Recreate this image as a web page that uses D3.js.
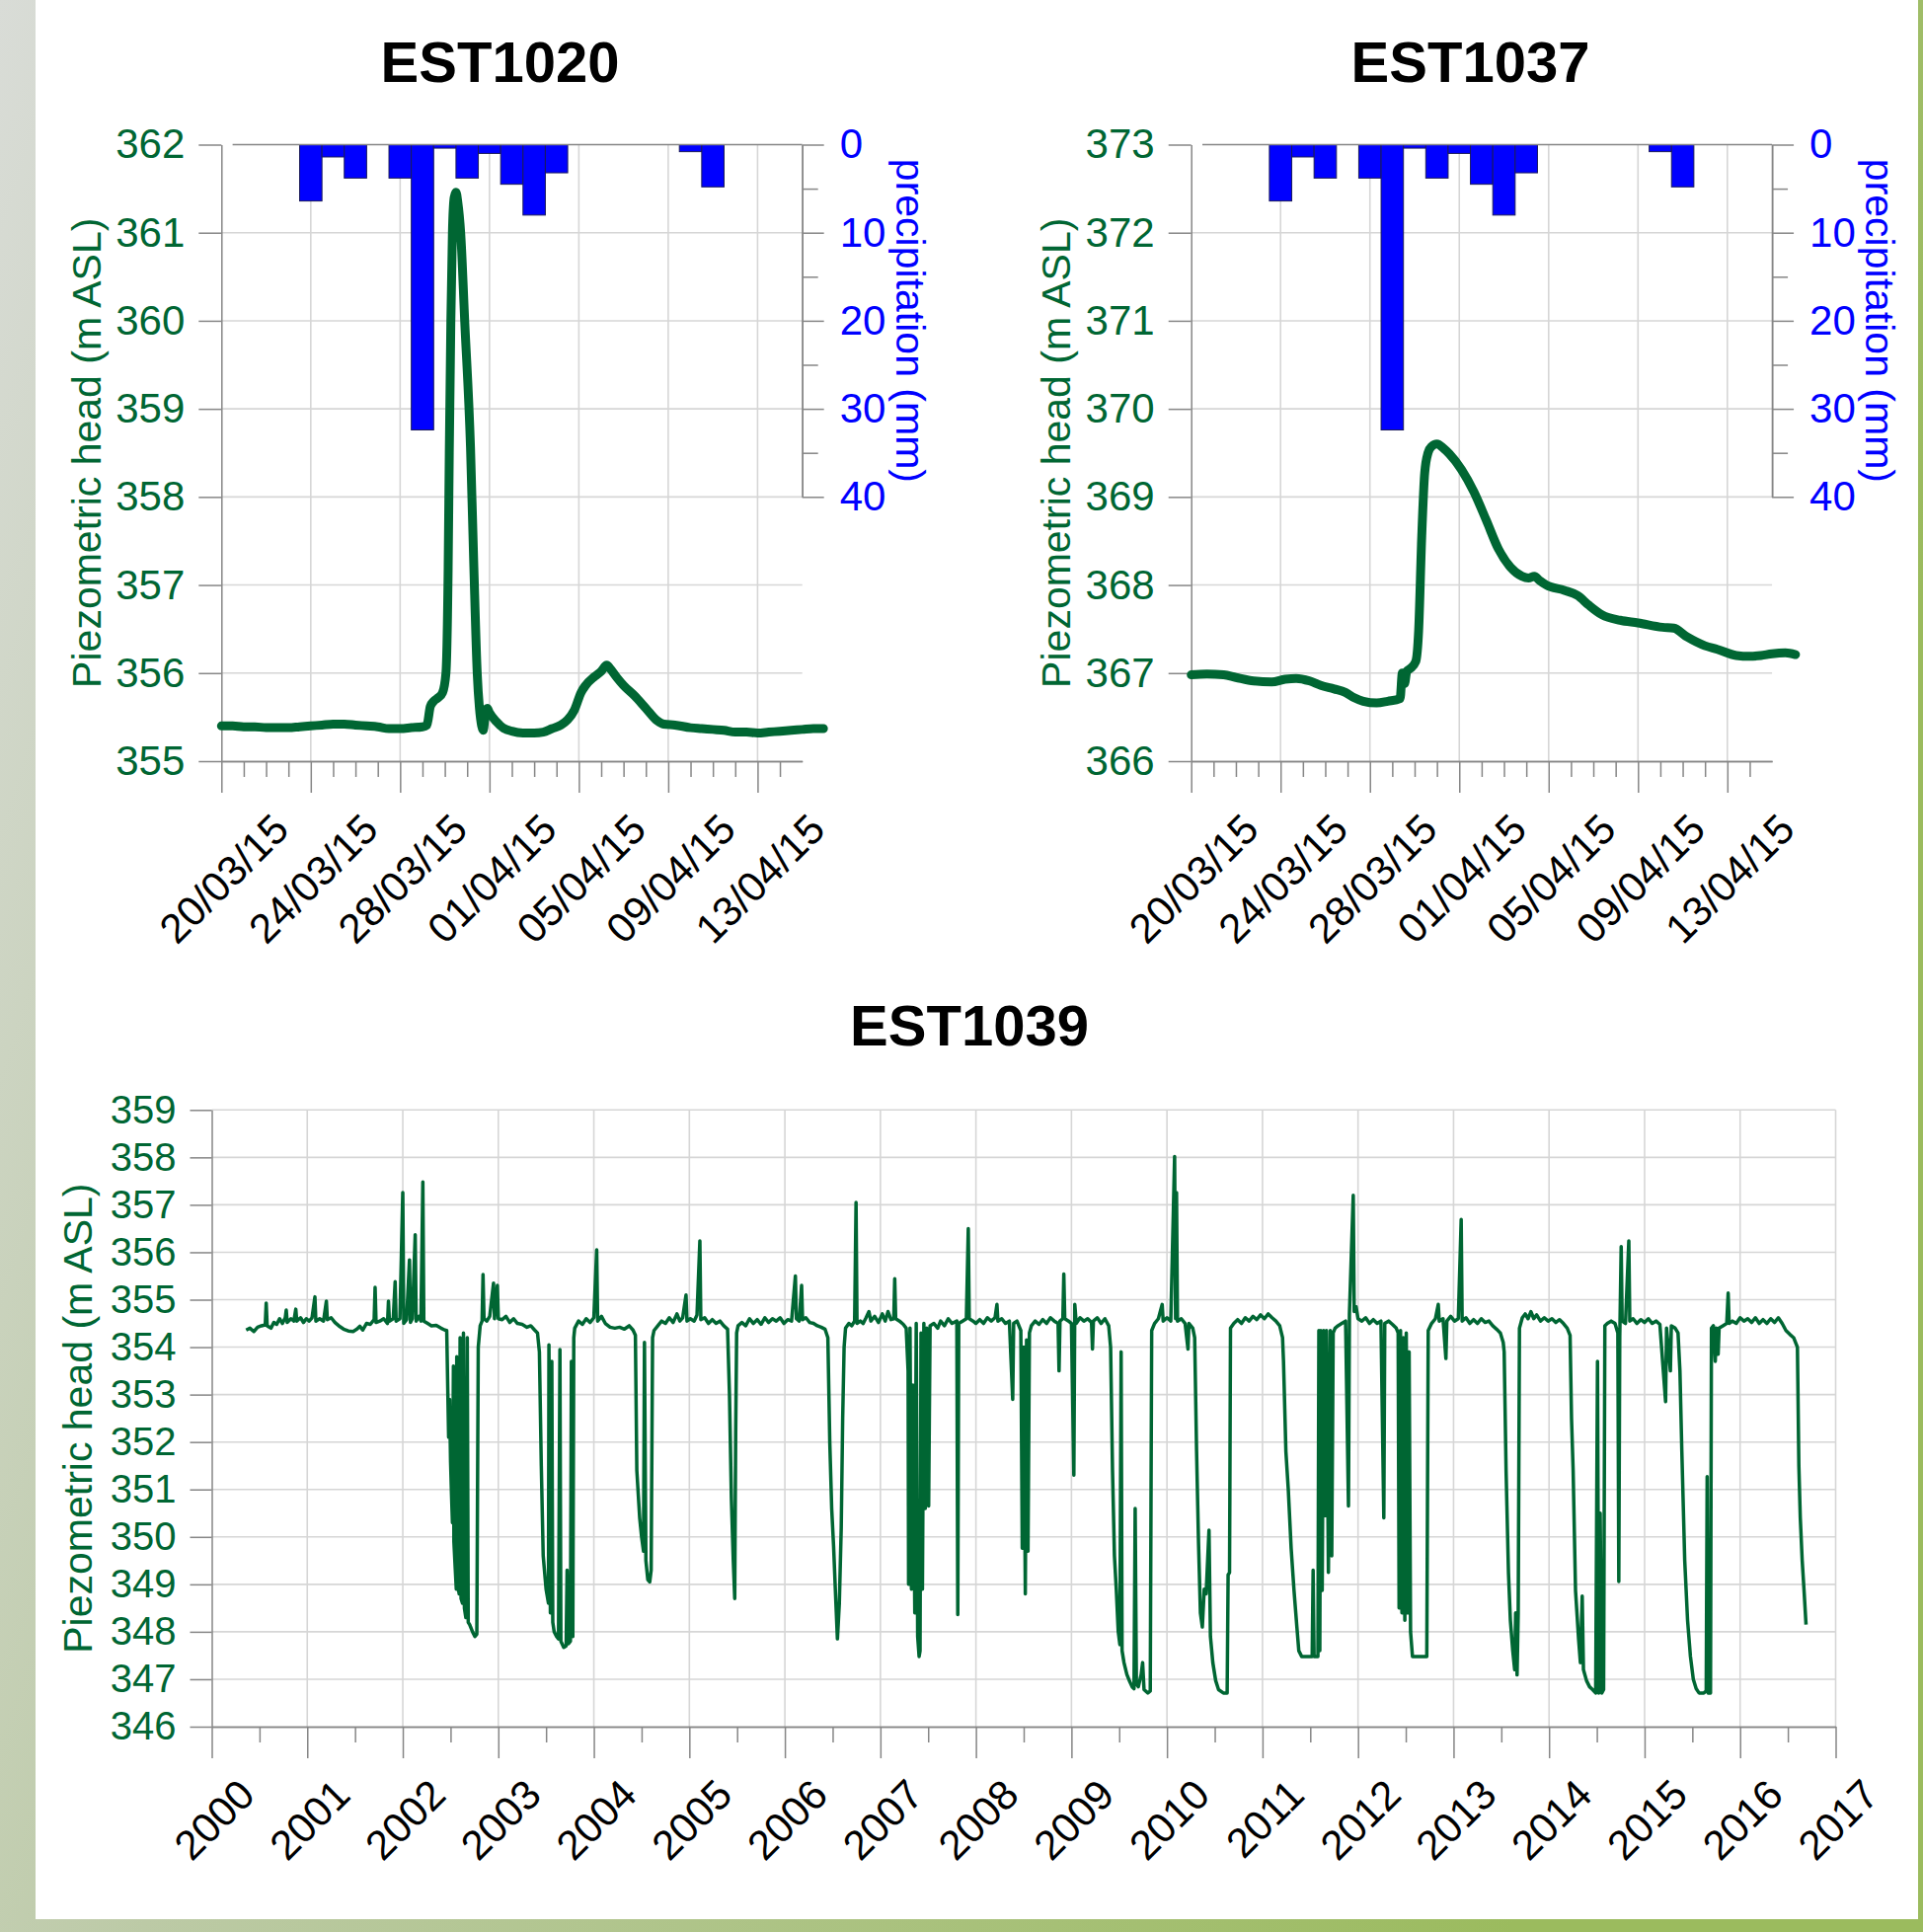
<!DOCTYPE html>
<html>
<head>
<meta charset="utf-8">
<script src="https://cdn.jsdelivr.net/npm/d3@7"></script>
<style>
  body { margin: 0; background: #fff; }
  svg { display: block; font-family: "Liberation Sans", Arial, sans-serif; }
</style>
</head>
<body>
<svg id="fig" width="1948" height="1957"></svg>
<script>
///// DATA /////

// daily precipitation (mm), day 0 = 20/03/15
const precipDays = [4, 5, 6, 8, 9, 10, 11, 12, 13, 14, 15, 21, 22]
const precipMm   = [6.4, 1.4, 3.8, 3.8, 32.4, 0.4, 3.8, 1.0, 4.5, 8.0, 3.2, 0.8, 4.8]

const dayTicks = [0, 4, 8, 12, 16, 20, 24]
const dayTickLabels = ["20/03/15", "24/03/15", "28/03/15", "01/04/15", "05/04/15", "09/04/15", "13/04/15"]
const precipTicks = [0, 10, 20, 30, 40]

// [days since 20/03/15, m ASL]
const est1020 = [
  [0, 355.40], [0.5, 355.40], [1, 355.39], [1.5, 355.39], [2, 355.38], [2.5, 355.38],
  [3, 355.38], [3.5, 355.39], [4, 355.40], [4.5, 355.41], [5, 355.42], [5.5, 355.42],
  [6, 355.41], [6.5, 355.40], [7, 355.39], [7.5, 355.37], [8, 355.37], [8.5, 355.38],
  [9, 355.39], [9.2, 355.41], [9.35, 355.62], [9.5, 355.68], [9.7, 355.72], [9.9, 355.78],
  [10.05, 356.0], [10.15, 357.2], [10.2, 358.5], [10.27, 360.0], [10.34, 361.0], [10.42, 361.4],
  [10.5, 361.46], [10.58, 361.35], [10.71, 361.0], [10.89, 360.0], [11.15, 358.56], [11.3, 357.2],
  [11.45, 356.0], [11.55, 355.6], [11.65, 355.4], [11.72, 355.35], [11.8, 355.5], [11.9, 355.60],
  [12.0, 355.55], [12.3, 355.45], [12.6, 355.38], [13, 355.34], [13.5, 355.32], [14, 355.32],
  [14.4, 355.33], [14.8, 355.37], [15.2, 355.41], [15.5, 355.47], [15.8, 355.58], [16.1, 355.78],
  [16.3, 355.86], [16.7, 355.96], [17.0, 356.02], [17.25, 356.09], [17.4, 356.05], [17.7, 355.95],
  [18.0, 355.86], [18.5, 355.74], [19.0, 355.60], [19.5, 355.46], [19.8, 355.42], [20.3, 355.41],
  [21.0, 355.38], [21.5, 355.37], [22.0, 355.36], [22.5, 355.35], [23.0, 355.33], [23.5, 355.33],
  [24.0, 355.32], [24.5, 355.33], [25.0, 355.34], [25.5, 355.35], [26.0, 355.36], [26.5, 355.37],
  [26.95, 355.37]
]

const est1037 = [
  [0, 366.98], [0.7, 366.99], [1.45, 366.98], [2.0, 366.95], [2.8, 366.91], [3.6, 366.90],
  [4.2, 366.93], [4.7, 366.94], [5.3, 366.91], [5.8, 366.86], [6.4, 366.82], [6.9, 366.78],
  [7.3, 366.72], [7.7, 366.68], [8.3, 366.66], [8.8, 366.68], [9.35, 366.71], [9.45, 367.0],
  [9.55, 366.88], [9.65, 367.02], [9.8, 367.05], [10.05, 367.13], [10.18, 367.48], [10.32, 368.56],
  [10.45, 369.27], [10.6, 369.5], [10.75, 369.57], [11.0, 369.6], [11.3, 369.55], [11.55, 369.49],
  [12.1, 369.31], [12.65, 369.06], [13.2, 368.74], [13.75, 368.41], [14.3, 368.2], [14.8, 368.10],
  [15.1, 368.08], [15.36, 368.1], [15.6, 368.05], [15.9, 368.0], [16.7, 367.94], [17.3, 367.88],
  [17.8, 367.77], [18.4, 367.66], [19.2, 367.6], [20.0, 367.57], [21.1, 367.52], [21.6, 367.51],
  [22.2, 367.41], [23.0, 367.31], [23.55, 367.27], [24.4, 367.2], [25.0, 367.19], [25.5, 367.2],
  [26.0, 367.22], [26.6, 367.23], [27.05, 367.21]
]

const years = [2000, 2001, 2002, 2003, 2004, 2005, 2006, 2007, 2008, 2009, 2010, 2011, 2012, 2013, 2014, 2015, 2016, 2017]

// [decimal year, m ASL]
const est1039 = [
  [2000.36,354.36],[2000.40,354.40],[2000.44,354.33],[2000.48,354.42],[2000.52,354.45],[2000.56,354.47],
  [2000.57,354.93],[2000.58,354.45],[2000.62,354.40],[2000.65,354.52],[2000.68,354.48],[2000.71,354.60],
  [2000.74,354.50],[2000.77,354.62],[2000.78,354.78],[2000.79,354.52],[2000.83,354.60],[2000.86,354.55],
  [2000.88,354.80],[2000.89,354.55],[2000.93,354.62],[2000.96,354.52],[2000.99,354.60],[2001.02,354.55],
  [2001.05,354.62],[2001.08,355.06],[2001.09,354.55],[2001.13,354.60],[2001.17,354.55],[2001.20,354.97],
  [2001.21,354.58],[2001.25,354.62],[2001.29,354.52],[2001.33,354.45],[2001.38,354.38],[2001.43,354.34],
  [2001.48,354.33],[2001.52,354.38],[2001.55,354.44],[2001.58,354.36],[2001.62,354.50],[2001.66,354.48],
  [2001.70,354.58],[2001.71,355.26],[2001.72,354.52],[2001.76,354.55],[2001.80,354.60],[2001.84,354.50],
  [2001.85,354.97],[2001.86,354.55],[2001.90,354.60],[2001.92,355.38],[2001.93,354.55],[2001.97,354.60],
  [2002.00,357.26],[2002.01,354.50],[2002.04,354.58],[2002.07,355.84],[2002.08,354.52],[2002.10,354.60],
  [2002.13,356.37],[2002.14,354.55],[2002.17,354.65],[2002.19,354.55],[2002.21,357.48],[2002.22,354.55],
  [2002.26,354.50],[2002.30,354.45],[2002.35,354.46],[2002.40,354.40],[2002.44,354.36],
  [2002.46,354.35],[2002.47,353.2],[2002.48,352.1],[2002.49,352.9],[2002.50,351.6],[2002.51,350.9],
  [2002.52,350.3],[2002.53,353.6],[2002.535,349.9],[2002.55,349.3],[2002.56,348.9],[2002.565,353.8],
  [2002.575,349.0],[2002.59,348.8],[2002.60,354.2],[2002.61,348.7],[2002.625,348.6],[2002.635,354.3],
  [2002.645,348.5],[2002.66,348.3],[2002.675,354.2],[2002.685,348.2],[2002.70,348.15],[2002.73,348.0],
  [2002.755,347.9],[2002.775,347.95],[2002.79,354.0],[2002.81,354.45],[2002.83,354.55],[2002.84,355.53],
  [2002.85,354.6],[2002.88,354.55],[2002.91,354.65],[2002.95,355.35],[2002.96,354.6],[2002.99,355.3],
  [2003.00,354.6],[2003.04,354.58],[2003.08,354.65],[2003.12,354.52],[2003.16,354.60],[2003.20,354.50],
  [2003.25,354.48],[2003.30,354.42],[2003.34,354.45],[2003.38,354.36],[2003.41,354.30],
  [2003.43,353.9],[2003.45,351.5],[2003.47,349.6],[2003.50,348.9],[2003.525,348.6],[2003.53,354.05],
  [2003.545,348.4],[2003.56,353.7],[2003.57,348.2],[2003.585,348.0],[2003.61,347.9],[2003.63,347.85],
  [2003.645,353.95],[2003.655,347.8],[2003.685,347.67],[2003.71,347.7],[2003.72,349.3],[2003.735,347.75],
  [2003.755,347.8],[2003.765,353.7],[2003.78,347.9],[2003.79,354.2],[2003.80,354.4],
  [2003.84,354.55],[2003.88,354.48],[2003.92,354.60],[2003.96,354.52],[2004.00,354.62],[2004.03,356.05],
  [2004.04,354.55],[2004.08,354.65],[2004.12,354.50],[2004.17,354.42],[2004.22,354.40],[2004.27,354.42],
  [2004.32,354.38],[2004.37,354.45],[2004.41,354.36],
  [2004.435,354.25],[2004.45,351.4],[2004.48,350.4],[2004.50,350.0],[2004.52,349.7],[2004.53,354.1],
  [2004.545,349.5],[2004.565,349.1],[2004.585,349.05],[2004.60,349.3],[2004.615,354.2],[2004.63,354.35],
  [2004.67,354.45],[2004.71,354.55],[2004.75,354.50],[2004.79,354.62],[2004.83,354.52],[2004.87,354.70],
  [2004.90,354.55],[2004.93,354.62],[2004.965,355.1],[2004.975,354.55],[2005.01,354.60],[2005.05,354.55],
  [2005.08,354.68],[2005.11,356.24],[2005.12,354.58],[2005.16,354.62],[2005.20,354.50],[2005.24,354.58],
  [2005.28,354.50],[2005.32,354.55],[2005.36,354.45],[2005.40,354.38],
  [2005.42,353.0],[2005.44,350.8],[2005.46,349.5],[2005.475,348.7],[2005.485,352.2],[2005.495,354.3],
  [2005.51,354.45],[2005.55,354.52],[2005.59,354.45],[2005.63,354.60],[2005.67,354.50],[2005.71,354.58],
  [2005.75,354.48],[2005.79,354.62],[2005.83,354.52],[2005.87,354.60],[2005.91,354.55],[2005.95,354.62],
  [2005.99,354.50],[2006.03,354.58],[2006.07,354.55],[2006.11,355.5],[2006.12,354.6],[2006.15,354.55],
  [2006.175,355.3],[2006.185,354.58],[2006.22,354.62],[2006.26,354.52],[2006.30,354.50],[2006.34,354.45],
  [2006.38,354.42],[2006.42,354.38],
  [2006.45,354.2],[2006.47,352.0],[2006.49,350.6],[2006.51,349.8],[2006.53,348.8],[2006.55,347.85],
  [2006.57,348.6],[2006.59,350.2],[2006.605,352.5],[2006.62,354.0],[2006.635,354.4],
  [2006.67,354.5],[2006.70,354.45],[2006.73,354.55],[2006.745,357.05],[2006.755,354.5],[2006.79,354.55],
  [2006.82,354.5],[2006.85,354.62],[2006.88,354.75],[2006.90,354.55],[2006.94,354.65],[2006.98,354.52],
  [2007.02,354.7],[2007.05,354.55],[2007.08,354.75],[2007.11,354.58],[2007.14,354.6],[2007.15,355.44],
  [2007.16,354.6],[2007.20,354.55],[2007.24,354.48],[2007.27,354.40],
  [2007.29,353.5],[2007.295,349.0],[2007.31,354.4],[2007.325,348.9],[2007.34,353.2],[2007.36,348.4],
  [2007.375,354.5],[2007.39,347.9],[2007.405,347.48],[2007.415,347.6],[2007.425,354.3],[2007.44,348.9],
  [2007.455,354.5],[2007.47,350.6],[2007.485,354.4],[2007.505,350.65],[2007.52,354.45],[2007.56,354.5],
  [2007.60,354.4],[2007.63,354.55],[2007.67,354.45],[2007.71,354.6],[2007.75,354.5],[2007.80,354.55],
  [2007.81,348.36],[2007.82,354.5],[2007.86,354.55],[2007.90,354.6],[2007.92,356.5],[2007.93,354.6],
  [2007.97,354.55],
  [2008.00,354.5],[2008.04,354.58],[2008.08,354.5],[2008.12,354.62],[2008.16,354.55],[2008.20,354.62],
  [2008.22,354.9],[2008.23,354.55],[2008.27,354.6],[2008.31,354.5],[2008.35,354.55],[2008.385,352.9],
  [2008.395,354.5],[2008.43,354.55],[2008.47,354.35],[2008.485,349.76],[2008.50,354.0],[2008.517,348.8],
  [2008.53,354.15],[2008.545,349.7],[2008.56,354.3],[2008.58,354.45],[2008.62,354.55],[2008.66,354.48],
  [2008.70,354.58],[2008.74,354.5],[2008.78,354.62],[2008.82,354.55],[2008.86,354.5],[2008.87,353.5],
  [2008.88,354.55],[2008.91,354.6],[2008.92,355.54],[2008.93,354.6],[2008.97,354.55],[2009.00,354.5],
  [2009.025,351.3],[2009.035,354.9],[2009.05,354.5],[2009.09,354.62],[2009.13,354.55],[2009.17,354.6],
  [2009.21,354.52],[2009.22,353.96],[2009.23,354.55],[2009.27,354.62],[2009.31,354.5],[2009.35,354.6],
  [2009.39,354.45],
  [2009.41,354.0],[2009.43,351.4],[2009.45,349.6],[2009.47,348.87],[2009.49,348.0],[2009.507,347.73],
  [2009.52,353.9],[2009.53,347.6],[2009.55,347.35],[2009.58,347.1],[2009.61,346.95],[2009.635,346.84],
  [2009.655,346.8],[2009.667,350.6],[2009.68,346.9],[2009.70,346.84],[2009.73,347.1],[2009.745,347.35],
  [2009.76,346.78],[2009.80,346.71],[2009.825,346.75],[2009.84,354.35],
  [2009.87,354.5],[2009.91,354.6],[2009.95,354.9],[2009.96,354.55],[2010.00,354.62],[2010.04,354.55],
  [2010.08,358.02],[2010.09,354.6],[2010.10,357.26],[2010.11,354.55],[2010.15,354.6],[2010.19,354.5],
  [2010.22,353.96],[2010.23,354.5],[2010.27,354.4],
  [2010.29,354.2],[2010.31,351.8],[2010.33,349.9],[2010.35,348.4],[2010.37,348.1],[2010.39,348.9],
  [2010.41,348.8],[2010.44,350.14],[2010.455,347.9],[2010.48,347.35],[2010.51,346.97],[2010.54,346.78],
  [2010.59,346.71],[2010.63,346.71],[2010.64,349.2],[2010.655,349.25],[2010.665,354.4],
  [2010.70,354.5],[2010.74,354.58],[2010.78,354.5],[2010.82,354.62],[2010.86,354.55],[2010.90,354.65],
  [2010.94,354.58],[2010.98,354.68],[2011.02,354.6],[2011.06,354.7],[2011.10,354.62],[2011.14,354.55],
  [2011.18,354.45],[2011.21,354.2],
  [2011.22,353.7],[2011.245,351.8],[2011.27,351.0],[2011.30,349.76],[2011.33,348.87],[2011.36,348.1],
  [2011.38,347.6],[2011.41,347.48],[2011.47,347.48],[2011.52,347.48],[2011.53,349.3],[2011.54,347.48],
  [2011.58,347.48],[2011.59,354.35],[2011.60,347.6],[2011.61,354.35],[2011.625,348.87],[2011.64,354.35],
  [2011.655,350.45],[2011.67,354.35],[2011.69,349.25],[2011.71,354.35],[2011.725,349.6],[2011.74,354.3],
  [2011.76,354.4],[2011.79,354.45],
  [2011.83,354.5],[2011.87,354.55],[2011.90,350.65],[2011.91,354.7],[2011.95,357.2],[2011.96,354.75],
  [2011.98,354.85],[2012.00,354.6],[2012.04,354.55],[2012.08,354.62],[2012.12,354.5],[2012.16,354.58],
  [2012.20,354.5],[2012.24,354.55],[2012.27,350.4],[2012.28,354.5],[2012.32,354.55],[2012.36,354.48],
  [2012.40,354.4],
  [2012.42,354.3],[2012.43,348.5],[2012.445,354.35],[2012.46,348.4],[2012.475,354.2],[2012.49,348.24],
  [2012.505,354.3],[2012.52,348.4],[2012.535,353.9],[2012.55,348.0],[2012.57,347.48],[2012.62,347.48],
  [2012.67,347.48],[2012.72,347.48],[2012.735,354.35],
  [2012.77,354.5],[2012.81,354.6],[2012.84,354.9],[2012.85,354.55],[2012.89,354.6],[2012.92,353.76],
  [2012.93,354.55],[2012.97,354.65],[2013.01,354.55],[2013.05,354.6],[2013.08,356.69],[2013.09,354.55],
  [2013.13,354.62],[2013.17,354.5],[2013.21,354.58],[2013.25,354.5],[2013.29,354.6],[2013.33,354.52],
  [2013.37,354.55],[2013.41,354.45],[2013.45,354.38],[2013.49,354.3],[2013.52,354.1],
  [2013.53,353.9],[2013.55,351.4],[2013.575,349.25],[2013.595,348.24],[2013.62,347.6],[2013.64,347.2],
  [2013.65,348.4],[2013.665,347.09],[2013.677,348.4],[2013.69,354.4],
  [2013.72,354.62],[2013.75,354.7],[2013.78,354.6],[2013.81,354.75],[2013.84,354.6],[2013.87,354.68],
  [2013.91,354.55],[2013.95,354.62],[2013.99,354.55],[2014.03,354.6],[2014.07,354.52],[2014.11,354.58],
  [2014.15,354.5],[2014.19,354.4],[2014.22,354.25],
  [2014.235,352.5],[2014.252,351.4],[2014.277,348.87],[2014.309,347.85],[2014.328,347.35],[2014.347,348.75],
  [2014.36,347.2],[2014.392,346.97],[2014.424,346.84],[2014.456,346.78],[2014.488,346.71],[2014.507,353.7],
  [2014.52,346.71],[2014.535,350.5],[2014.552,346.71],[2014.571,346.78],[2014.584,354.45],
  [2014.61,354.5],[2014.65,354.55],[2014.69,354.5],[2014.72,354.3],[2014.73,349.06],[2014.74,354.2],
  [2014.755,356.12],[2014.765,354.55],[2014.80,354.5],[2014.835,356.24],[2014.845,354.55],[2014.88,354.6],
  [2014.92,354.5],[2014.96,354.58],[2015.00,354.52],[2015.04,354.6],[2015.08,354.5],[2015.12,354.55],
  [2015.16,354.48],[2015.22,352.85],[2015.23,354.4],[2015.27,353.5],[2015.28,354.45],[2015.32,354.4],
  [2015.35,354.3],
  [2015.37,353.5],[2015.39,351.8],[2015.42,349.51],[2015.45,348.24],[2015.48,347.48],[2015.51,347.0],
  [2015.54,346.8],[2015.57,346.71],[2015.62,346.71],[2015.645,346.75],[2015.655,351.27],[2015.665,346.71],
  [2015.69,346.71],[2015.70,354.4],
  [2015.72,354.45],[2015.74,353.7],[2015.75,354.4],[2015.77,353.85],[2015.78,354.4],[2015.82,354.45],
  [2015.86,354.5],[2015.875,355.14],[2015.885,354.5],[2015.92,354.55],[2015.96,354.5],[2016.00,354.62],
  [2016.04,354.55],[2016.08,354.6],[2016.12,354.52],[2016.16,354.62],[2016.20,354.5],[2016.24,354.58],
  [2016.28,354.5],[2016.32,354.6],[2016.36,354.52],[2016.40,354.62],[2016.44,354.5],[2016.48,354.35],
  [2016.52,354.27],[2016.56,354.2],[2016.60,354.0],
  [2016.615,351.5],[2016.63,350.4],[2016.65,349.5],[2016.67,348.85],[2016.69,348.15]
]

///// STYLE /////

const GREEN = "#006633"
const BLUE = "#0000ff"
const GRID = "#d6d6d6"
const AXIS = "#868686"
const XLAB = 42   // rotated date / year labels

const svg = d3.select("#fig")

// frame behind the white slide area
const grad = svg.append("defs").append("linearGradient")
  .attr("id", "frame")
  .attr("gradientUnits", "userSpaceOnUse")
  .attr("x1", 0).attr("y1", 0).attr("x2", 1948).attr("y2", 600)
grad.append("stop").attr("offset", 0).attr("stop-color", "#d9dcd7")
grad.append("stop").attr("offset", 0.35).attr("stop-color", "#bccaa6")
grad.append("stop").attr("offset", 1).attr("stop-color", "#9bbb5e")

svg.append("rect").attr("width", 1948).attr("height", 1957).attr("fill", "url(#frame)")
svg.append("rect").attr("x", 36).attr("y", 0).attr("width", 1907).attr("height", 1944).attr("fill", "#fff")

function styleAxis(g, color, fontSize) {
  g.attr("font-family", null).attr("font-size", null)
  g.select(".domain").attr("stroke", AXIS).attr("stroke-width", 1.5)
  g.selectAll(".tick line").attr("stroke", AXIS).attr("stroke-width", 1.5)
  g.selectAll(".tick text").attr("fill", color).style("font-size", fontSize + "px")
}

// rotated (-45) tick labels, centred under the tick
function rotatedLabels(g, values, labels, x, axisY, fontSize) {
  g.selectAll(null).data(values).join("text")
    .attr("text-anchor", "middle")
    .attr("dy", "0.36em")
    .attr("fill", "#000")
    .style("font-size", fontSize + "px")
    .text((d, i) => labels[i])
    .attr("transform", function (d) {
      const len = this.getComputedTextLength()
      const cy = axisY + 50 + (len + 0.72 * fontSize) * Math.SQRT1_2 / 2
      return `translate(${x(d) + 2},${cy}) rotate(-45)`
    })
}

function axisTitle(g, text, cx, cy, angle, color) {
  g.append("text")
    .attr("transform", `translate(${cx},${cy}) rotate(${angle})`)
    .attr("text-anchor", "middle")
    .attr("dy", "0.36em")
    .attr("fill", color)
    .style("font-size", "41px")
    .text(text)
}

function chartTitle(text, cx, baseline) {
  svg.append("text")
    .attr("x", cx).attr("y", baseline)
    .attr("text-anchor", "middle")
    .style("font-size", "58px").style("font-weight", "bold")
    .text(text)
}

///// EVENT PANELS (EST1020, EST1037) /////

function drawEventPanel(opts) {
  const { left, series, yLo, title, titleX } = opts
  const g = svg.append("g")
  const x = d3.scaleLinear().domain([0, 26]).range([left, left + 26 * 22.63])
  const y = d3.scaleLinear().domain([yLo, yLo + 7]).range([771, 146.5])
  const p = d3.scaleLinear().domain([0, 40]).range([146.5, 503.3])
  const yTicks = d3.range(yLo, yLo + 8)

  // grid
  g.append("g").selectAll("line").data(yTicks.slice(1, -1)).join("line")
    .attr("x1", x(0)).attr("x2", x(26))
    .attr("y1", d => y(d)).attr("y2", d => y(d))
    .attr("stroke", GRID).attr("stroke-width", 1.6)
  g.append("g").selectAll("line").data(dayTicks.slice(1)).join("line")
    .attr("x1", d => x(d)).attr("x2", d => x(d))
    .attr("y1", y(yLo + 7)).attr("y2", y(yLo))
    .attr("stroke", GRID).attr("stroke-width", 1.6)

  // precipitation bars hanging from the top
  g.append("g").selectAll("rect").data(precipDays).join("rect")
    .attr("x", d => x(d - 0.5))
    .attr("width", x(1) - x(0))
    .attr("y", p(0))
    .attr("height", (d, i) => p(precipMm[i]) - p(0))
    .attr("fill", BLUE)
    .attr("stroke", "#1a1a5a").attr("stroke-width", 1)

  // category axis of the bars along the top edge
  g.append("line")
    .attr("x1", x(0.5)).attr("x2", x(26))
    .attr("y1", p(0)).attr("y2", p(0))
    .attr("stroke", AXIS).attr("stroke-width", 1.5)

  // left axis
  const ya = g.append("g").attr("transform", `translate(${x(0)},0)`)
    .call(d3.axisLeft(y).tickValues(yTicks).tickSize(23).tickSizeOuter(0).tickPadding(14).tickFormat(d3.format("d")))
  styleAxis(ya, GREEN, 42)

  // bottom axis: major every 4 days, minor daily
  const xMinor = g.append("g").attr("transform", `translate(0,${y(yLo)})`)
    .call(d3.axisBottom(x).tickValues(d3.range(1, 26).filter(d => d % 4 !== 0)).tickSize(16).tickSizeOuter(0).tickFormat(""))
  styleAxis(xMinor, "#000", XLAB)
  const xMajor = g.append("g").attr("transform", `translate(0,${y(yLo)})`)
    .call(d3.axisBottom(x).tickValues(dayTicks).tickSize(32).tickSizeOuter(0).tickFormat(""))
  styleAxis(xMajor, "#000", XLAB)
  rotatedLabels(g, dayTicks, dayTickLabels, x, y(yLo), XLAB)

  // right precipitation axis
  const pMinor = g.append("g").attr("transform", `translate(${x(26)},0)`)
    .call(d3.axisRight(p).tickValues([5, 15, 25, 35]).tickSize(16).tickSizeOuter(0).tickFormat(""))
  styleAxis(pMinor, BLUE, 42)
  const pa = g.append("g").attr("transform", `translate(${x(26)},0)`)
    .call(d3.axisRight(p).tickValues(precipTicks).tickSize(22).tickSizeOuter(0).tickPadding(16))
  styleAxis(pa, BLUE, 42)

  // head series
  g.append("path")
    .datum(series)
    .attr("d", d3.line().x(d => x(d[0])).y(d => y(d[1])).curve(d3.curveMonotoneX))
    .attr("fill", "none")
    .attr("stroke", GREEN)
    .attr("stroke-width", 9)
    .attr("stroke-linecap", "round")
    .attr("stroke-linejoin", "round")

  axisTitle(g, "Piezometric head (m ASL)", x(0) - 137, (y(yLo) + y(yLo + 7)) / 2, -90, GREEN)
  axisTitle(g, "precipitation (mm)", x(26) + 110, (p(0) + p(40)) / 2, 90, BLUE)
  chartTitle(title, titleX, 83)
}

drawEventPanel({ left: 224.3, series: est1020, yLo: 355, title: "EST1020", titleX: 506.5 })
drawEventPanel({ left: 1206.7, series: est1037, yLo: 366, title: "EST1037", titleX: 1489.5 })

///// LONG RECORD (EST1039) /////

{
  const g = svg.append("g")
  const x = d3.scaleLinear().domain([2000, 2017]).range([214.5, 1859.5])
  const y = d3.scaleLinear().domain([346, 359]).range([1749, 1124.3])
  const yTicks = d3.range(346, 360)

  g.append("g").selectAll("line").data(yTicks.slice(1)).join("line")
    .attr("x1", x(2000)).attr("x2", x(2017))
    .attr("y1", d => y(d)).attr("y2", d => y(d))
    .attr("stroke", GRID).attr("stroke-width", 1.6)
  g.append("g").selectAll("line").data(years.slice(1)).join("line")
    .attr("x1", d => x(d)).attr("x2", d => x(d))
    .attr("y1", y(359)).attr("y2", y(346))
    .attr("stroke", GRID).attr("stroke-width", 1.6)

  const ya = g.append("g").attr("transform", `translate(${x(2000)},0)`)
    .call(d3.axisLeft(y).tickValues(yTicks).tickSize(22).tickSizeOuter(0).tickPadding(14).tickFormat(d3.format("d")))
  styleAxis(ya, GREEN, 40)

  const xMinor = g.append("g").attr("transform", `translate(0,${y(346)})`)
    .call(d3.axisBottom(x).tickValues(years.slice(0, -1).map(d => d + 0.5)).tickSize(16).tickSizeOuter(0).tickFormat(""))
  styleAxis(xMinor, "#000", XLAB)
  const xMajor = g.append("g").attr("transform", `translate(0,${y(346)})`)
    .call(d3.axisBottom(x).tickValues(years).tickSize(32).tickSizeOuter(0).tickFormat(""))
  styleAxis(xMajor, "#000", XLAB)
  rotatedLabels(g, years, years.map(String), x, y(346), XLAB)

  g.append("path")
    .datum(est1039)
    .attr("d", d3.line().x(d => x(d[0])).y(d => y(d[1])))
    .attr("fill", "none")
    .attr("stroke", GREEN)
    .attr("stroke-width", 3.5)
    .attr("stroke-linejoin", "round")

  axisTitle(g, "Piezometric head (m ASL)", x(2000) - 136, (y(346) + y(359)) / 2, -90, GREEN)
  chartTitle("EST1039", 982, 1059)
}
</script>
</body>
</html>
